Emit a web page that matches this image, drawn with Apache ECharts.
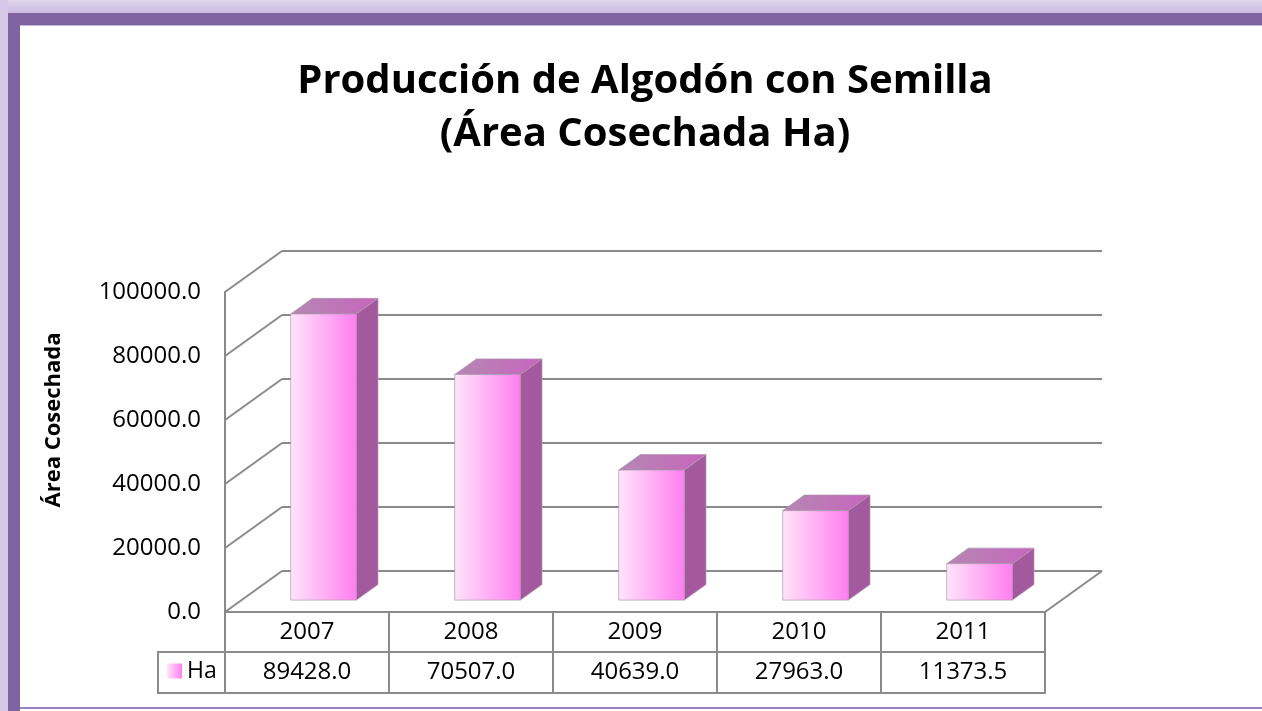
<!DOCTYPE html>
<html>
<head>
<meta charset="utf-8">
<script src="https://cdn.jsdelivr.net/npm/echarts@6/dist/echarts.min.js"></script>
<style>
html, body { margin: 0; padding: 0; background: #fff; }
#main { width: 1262px; height: 711px; }
</style>
</head>
<body>
<div id="main"></div>
<script>
// datos
const years = ['2007', '2008', '2009', '2010', '2011'];
const area = [89428.0, 70507.0, 40639.0, 27963.0, 11373.5];
const yTicks = [0, 20000, 40000, 60000, 80000, 100000];
const seriesName = 'Ha';

const FONT = 'Open Sans';
const LINE = '#8a8a8a';
// profundidad del "suelo" 3D
const DX = 57, DY = -41;
const BAR_OFF = 0.29, BAR_DEPTH = 0.38;

const myChart = echarts.init(document.getElementById('main'), null, { renderer: 'canvas' });

function renderWall(params, api) {
    const cs = params.coordSys;
    const v = api.value(1);
    const y = api.coord([0, v])[1];
    const x0 = cs.x, x1 = cs.x + cs.width;
    const style = { stroke: LINE, lineWidth: 2, fill: null };
    const children = [
        { type: 'line', shape: { x1: x0, y1: y, x2: x0 + DX, y2: y + DY }, style: style },
        { type: 'line', shape: { x1: x0 + DX, y1: y + DY, x2: x1 + DX, y2: y + DY }, style: style }
    ];
    if (v === 0) {
        children.push({ type: 'line', shape: { x1: x1, y1: y, x2: x1 + DX, y2: y + DY }, style: style });
    }
    return { type: 'group', children: children };
}

function renderBar(params, api) {
    const base = api.coord([api.value(0), 0]);
    const top = api.coord([api.value(0), api.value(1)]);
    const bw = api.size([1, 0])[0];
    const w = bw * 0.4;
    const ox = DX * BAR_OFF, oy = DY * BAR_OFF;
    const dx = DX * BAR_DEPTH, dy = DY * BAR_DEPTH;
    const x0 = base[0] - w / 2 + ox, x1 = x0 + w;
    const yb = base[1] + oy, yt = top[1] + oy;
    const edge = 'rgba(170,150,170,0.7)';
    return {
        type: 'group',
        children: [
            {
                type: 'polygon',
                shape: { points: [[x1, yt], [x1 + dx, yt + dy], [x1 + dx, yb + dy], [x1, yb]] },
                style: { fill: '#a4589e', stroke: edge, lineWidth: 1 }
            },
            {
                type: 'polygon',
                shape: { points: [[x0, yt], [x0 + dx, yt + dy], [x1 + dx, yt + dy], [x1, yt]] },
                style: {
                    fill: new echarts.graphic.LinearGradient(0, 0, 1, 0, [
                        { offset: 0, color: '#b488b2' },
                        { offset: 1, color: '#c865be' }
                    ]),
                    stroke: edge, lineWidth: 1
                }
            },
            {
                type: 'rect',
                shape: { x: x0, y: yt, width: w, height: yb - yt },
                style: {
                    fill: new echarts.graphic.LinearGradient(0, 0, 1, 0, [
                        { offset: 0, color: '#ffe4fa' },
                        { offset: 1, color: '#ff7ef0' }
                    ]),
                    stroke: edge, lineWidth: 1
                }
            }
        ]
    };
}

const option = {
    backgroundColor: '#ffffff',
    animation: false,
    graphic: [
        // marco
        { type: 'rect', shape: { x: 0, y: 0, width: 1262, height: 13 },
          style: { fill: new echarts.graphic.LinearGradient(0, 0, 0, 1, [
              { offset: 0, color: '#e2d6ee' }, { offset: 1, color: '#cbb9df' }]) } },
        { type: 'rect', shape: { x: 0, y: 0, width: 8, height: 711 }, style: { fill: '#d6c7e7' } },
        { type: 'rect', shape: { x: 8, y: 13, width: 1254, height: 12 }, style: { fill: '#7f64a1' } },
        { type: 'rect', shape: { x: 8, y: 13, width: 12, height: 698 }, style: { fill: '#7f64a1' } },
        { type: 'rect', shape: { x: 20, y: 25, width: 1242, height: 1 }, style: { fill: '#c9b9dc' } },
        { type: 'rect', shape: { x: 20, y: 707, width: 1242, height: 2 }, style: { fill: '#9a82bf' } },
        // título
        {
            type: 'text', x: 645, y: 55,
            style: {
                text: 'Producción de Algodón con Semilla\n(Área Cosechada Ha)',
                align: 'center', verticalAlign: 'top',
                font: 'bold 40px "' + FONT + '"', lineHeight: 53, fill: '#000'
            }
        },
        // título del eje
        {
            type: 'text', x: 54, y: 420, rotation: Math.PI / 2,
            style: {
                text: 'Área Cosechada', align: 'center', verticalAlign: 'middle',
                font: 'bold 22px "' + FONT + '"', fill: '#000'
            }
        },
        // celda de leyenda
        { type: 'polyline', shape: { points: [[225, 652], [158, 652], [158, 693], [225, 693]] },
          style: { stroke: LINE, lineWidth: 2, fill: null } }
    ],
    legend: {
        data: [seriesName],
        left: 167, top: 659, padding: 0,
        icon: 'rect', itemWidth: 15, itemHeight: 15, itemGap: 4,
        textStyle: { fontFamily: FONT, fontSize: 23, color: '#000', lineHeight: 24 }
    },
    grid: { left: 225, top: 292, width: 820, height: 320, containLabel: false },
    xAxis: [
        {
            type: 'category', data: years, position: 'bottom',
            axisLine: { lineStyle: { color: LINE, width: 2 } },
            axisTick: { show: true, length: 81, inside: false, interval: 0, lineStyle: { color: LINE, width: 2 } },
            axisLabel: { margin: 8, fontFamily: FONT, fontSize: 24, color: '#000', lineHeight: 24 }
        },
        {
            type: 'category', data: area.map(v => v.toFixed(1)), position: 'bottom', offset: 40,
            axisLine: { lineStyle: { color: LINE, width: 2 } },
            axisTick: { show: false },
            axisLabel: { margin: 8, fontFamily: FONT, fontSize: 24, color: '#000', lineHeight: 24 }
        },
        {
            type: 'category', data: years, position: 'bottom', offset: 81,
            axisLine: { lineStyle: { color: LINE, width: 2 } },
            axisTick: { show: false }, axisLabel: { show: false }
        }
    ],
    yAxis: {
        type: 'value', min: 0, max: 100000, interval: 20000,
        axisLine: { show: true, lineStyle: { color: LINE, width: 2 } },
        axisTick: { show: false },
        splitLine: { show: false },
        axisLabel: {
            margin: 24, fontFamily: FONT, fontSize: 24, color: '#000',
            formatter: function (v) { return v.toFixed(1); }
        }
    },
    series: [
        {
            type: 'custom', name: 'pared', silent: true, z: 1,
            renderItem: renderWall,
            data: yTicks.map(v => [0, v])
        },
        {
            type: 'custom', name: seriesName, z: 3,
            itemStyle: {
                color: new echarts.graphic.LinearGradient(0, 0, 1, 0, [
                    { offset: 0, color: '#ffe4fa' }, { offset: 1, color: '#ff7ef0' }])
            },
            renderItem: renderBar,
            data: area.map((v, i) => [years[i], v])
        }
    ]
};

myChart.setOption(option);
</script>
</body>
</html>
